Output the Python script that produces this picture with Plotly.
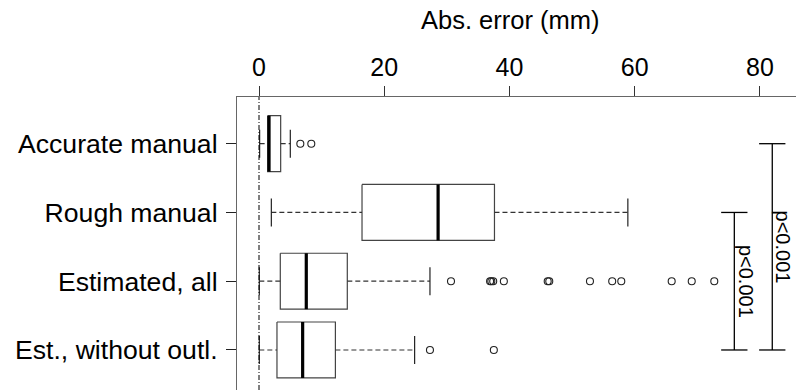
import plotly.graph_objects as go

# ---- data ----
categories = ["Accurate manual", "Rough manual", "Estimated, all", "Est., without outl."]
lower_whisker = [0.1, 1.97, 0.05, 0.05]
q1 = [1.38, 16.45, 3.4, 2.87]
median = [1.6, 28.6, 7.55, 6.97]
q3 = [3.46, 37.6, 14.1, 12.2]
upper_whisker = [5.0, 58.9, 27.3, 24.85]
outliers = [
    [6.6, 8.35],
    [],
    [30.66, 36.9, 37.1, 37.4, 39.1, 46.1, 46.35, 52.85, 56.4, 57.85, 65.9, 69.1, 72.7],
    [27.3, 37.5],
]
x_ticks = [0, 20, 40, 60, 80]
comparisons = [(2, 4), (1, 4)]          # group indices (1-based) compared
comparison_labels = ["p<0.001", "p<0.001"]

# ---- positions / styles ----
bracket_x = [75.9, 81.96]
bracket_cap = 2.1
box_half = 0.407
staple_half = 0.204
FONT = "Liberation Sans, Arial, sans-serif"
BOX_COL = "#444444"
AX_COL = "#666666"

fig = go.Figure()
ypos = list(range(1, len(categories) + 1))

for i, y in enumerate(ypos):
    # box
    fig.add_trace(go.Scatter(
        x=[q1[i], q3[i], q3[i], q1[i], q1[i]],
        y=[y - box_half, y - box_half, y + box_half, y + box_half, y - box_half],
        mode="lines", line=dict(color=BOX_COL, width=1.2), hoverinfo="skip"))
    # median
    fig.add_trace(go.Scatter(
        x=[median[i], median[i]], y=[y - box_half, y + box_half],
        mode="lines", line=dict(color="black", width=3.2), hoverinfo="skip"))
    # whiskers (dashed)
    fig.add_trace(go.Scatter(
        x=[lower_whisker[i], q1[i], None, q3[i], upper_whisker[i]],
        y=[y, y, None, y, y],
        mode="lines", line=dict(color="#333333", width=1.2, dash="5px,3px"),
        hoverinfo="skip"))
    # staples
    fig.add_trace(go.Scatter(
        x=[lower_whisker[i], lower_whisker[i], None, upper_whisker[i], upper_whisker[i]],
        y=[y - staple_half, y + staple_half, None, y - staple_half, y + staple_half],
        mode="lines", line=dict(color="#222222", width=1.2), hoverinfo="skip"))
    # outliers
    if outliers[i]:
        fig.add_trace(go.Scatter(
            x=outliers[i], y=[y] * len(outliers[i]), mode="markers",
            marker=dict(symbol="circle-open", size=7, color="#222222",
                        line=dict(width=1.1)), hoverinfo="skip"))

# significance brackets
for (a, b), bx, lab in zip(comparisons, bracket_x, comparison_labels):
    fig.add_trace(go.Scatter(
        x=[bx, bx, None, bx - bracket_cap, bx + bracket_cap, None,
           bx - bracket_cap, bx + bracket_cap],
        y=[a, b, None, a, a, None, b, b],
        mode="lines", line=dict(color="black", width=1.3), hoverinfo="skip"))
    fig.add_annotation(x=bx, y=(a + b) / 2, text=lab, textangle=90,
                       showarrow=False, xanchor="center", yanchor="middle",
                       xshift=11, font=dict(size=20, color="black", family=FONT))

# dash-dot reference line at zero
fig.add_shape(type="line", xref="x", yref="paper", x0=0, x1=0, y0=0, y1=1,
              line=dict(color="black", width=1, dash="5px,2px,1px,2px"))

# axis title
fig.add_annotation(xref="paper", yref="paper", x=0.4884, y=1.2628,
                   text="Abs. error (mm)", showarrow=False,
                   xanchor="center", yanchor="middle",
                   font=dict(size=25.5, color="black", family=FONT))

fig.update_layout(
    width=796, height=390,
    margin=dict(l=237, r=0, t=97, b=0),
    paper_bgcolor="white", plot_bgcolor="white",
    showlegend=False,
    font=dict(family=FONT, color="black"),
    xaxis=dict(side="top", range=[-3.513, 85.75], tickvals=x_ticks,
               ticktext=[str(v) for v in x_ticks],
               showgrid=False, zeroline=False, showline=True,
               linecolor=AX_COL, linewidth=1.2, ticks="outside", ticklen=10,
               tickcolor="#333333", tickfont=dict(size=25, color="black"),
               automargin=False),
    yaxis=dict(range=[4.582, 0.321], tickvals=ypos, ticktext=categories,
               showgrid=False, zeroline=False, showline=True,
               linecolor=AX_COL, linewidth=1.2, ticks="outside", ticklen=10,
               tickcolor="#222222", tickfont=dict(size=26.6, color="black"),
               ticklabelstandoff=3, automargin=False),
)

fig.write_html("out.html")
